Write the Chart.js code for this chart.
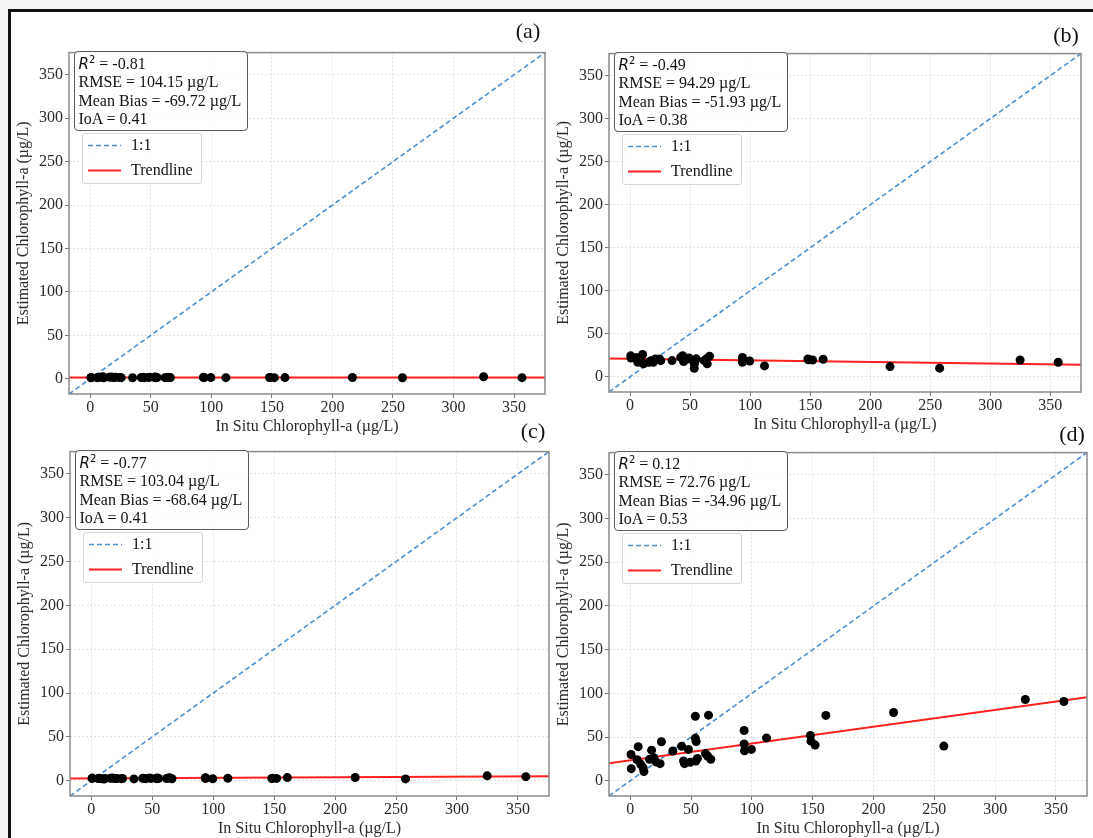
<!DOCTYPE html>
<html>
<head>
<meta charset="utf-8">
<script src="https://cdn.jsdelivr.net/npm/chart.js@4.4.1/dist/chart.umd.min.js"></script>
<style>
html, body { margin: 0; padding: 0; width: 1093px; height: 838px; overflow: hidden; background: #f4f4f4; }
#frame { position: absolute; left: 8px; top: 9px; width: 1200px; height: 900px; background: #fff;
         border-left: 3px solid #111; border-top: 3px solid #111; }
canvas { position: absolute; }
.stats { position: absolute; box-sizing: border-box; border: 1.5px solid #5c5c5c; border-radius: 4px;
         background: rgba(255,255,255,0.92); font: 16px "Liberation Serif"; line-height: 18.3px;
         padding: 3px 6px 2px 4px; color: #111; white-space: nowrap; }
.stats .m { font-family: "DejaVu Sans"; font-style: italic; font-size: 15px; }
.stats sup { font-family: "DejaVu Sans"; font-size: 10px; line-height: 0; vertical-align: 6px; }
.legend { position: absolute; box-sizing: border-box; width: 120px; height: 51px; border: 1px solid #d6d6d6;
          border-radius: 3px; background: rgba(255,255,255,0.92); }
.legend span { position: absolute; left: 48px; font: 16px "Liberation Serif"; line-height: 18px; color: #111; white-space: nowrap; }
.legend svg { position: absolute; left: 0; top: 0; }
.plabel { position: absolute; font: 22px "Liberation Serif"; color: #111; transform: translate(-50%, -50%); }
</style>
</head>
<body>
<div id="frame"></div>
<script>
// in situ values shared by all four panels
const inSitu = [0.6, 0.8, 5.6, 6.5, 8.5, 10.5, 11.2, 15.8, 17.5, 19.4, 21.2, 24.5, 25.6, 35, 42.2, 43.8, 44.6,
    47.8, 49.2, 53.5, 53.5, 54.2, 53.8, 55.2, 64.3, 61.8, 63.5, 66.2, 93.6, 93.6, 93.9, 99.6, 112, 148.1,
    148.6, 152, 160.8, 216.5, 257.8, 324.8, 356.5];

const estimatedA = [1.2, 1.5, 1.3, 1.6, 1.8, 2.4, 1.2, 1.9, 2.0, 1.4, 1.7, 1.5, 1.3, 1.2, 1.5, 1.8, 1.3,
    1.6, 1.9, 2.2, 1.4, 1.7, 1.2, 1.5, 1.9, 1.3, 1.6, 1.4, 1.8, 1.3, 1.5, 1.4, 1.3, 1.5, 1.4, 1.3, 1.4,
    1.5, 1.2, 2.4, 1.3];
const estimatedB = [24.5, 22, 22.7, 17, 20.8, 26, 15.2, 17, 18.9, 17, 20.8, 20.8, 18.9, 19, 22.7, 24.6,
    17.8, 20.8, 22, 15.2, 10, 19, 17, 21, 15.2, 19, 20.8, 24, 22.7, 17, 20, 18.5, 12.8, 20.8, 20, 19.7,
    20.5, 12, 10.2, 19.7, 17];
const estimatedC = [2.6, 2.9, 2.4, 2.8, 2.2, 1.9, 2.5, 2.7, 3.0, 2.4, 2.6, 2.3, 2.5, 2.0, 2.8, 2.5, 2.3,
    2.9, 2.6, 2.4, 2.7, 3.1, 2.3, 2.6, 3.2, 2.5, 2.9, 2.2, 3.4, 2.6, 2.9, 2.2, 2.8, 2.5, 2.7, 2.6, 3.5,
    3.6, 2.0, 5.5, 4.6];
const estimatedD = [30, 13.8, 24, 39, 19, 15, 10.5, 24.5, 35, 26.4, 21.5, 19.5, 44.6, 34, 39.5, 22.6, 19.5,
    35.8, 21, 73.8, 48.6, 44.8, 22.5, 25.5, 75, 31, 28.3, 24.5, 57.5, 42, 34.3, 35.8, 49, 51.7, 45.3, 40.8,
    74.7, 78, 39.6, 93, 90.6];

const tickValues = [0, 50, 100, 150, 200, 250, 300, 350];
const axisLimits = [-17.5, 375.5];

// trendline: y = intercept + slope * x
const trendIntercepts = [1.5, 21, 2.5, 23.4];
const trendSlopes = [0.0002, -0.018, 0.0065, 0.192];

const r2Values = ['-0.81', '-0.49', '-0.77', '0.12'];
const rmseValues = ['104.15', '94.29', '103.04', '72.76'];
const biasValues = ['-69.72', '-51.93', '-68.64', '-34.96'];
const ioaValues = ['0.41', '0.38', '0.41', '0.53'];
const panelLabels = ['(a)', '(b)', '(c)', '(d)'];

const xTitle = 'In Situ Chlorophyll-a (µg/L)';
const yTitle = 'Estimated Chlorophyll-a (µg/L)';

// plot area of each panel in page pixels: left, top, right, bottom
const panels = [
    { est: estimatedA, box: [69, 49, 545, 394], label: [528, 31] },
    { est: estimatedB, box: [609, 50, 1081, 392], label: [1066, 35] },
    { est: estimatedC, box: [70, 448, 549, 796], label: [533, 431] },
    { est: estimatedD, box: [609, 449, 1087, 796], label: [1072, 434] }
];

const Y_AXIS_W = 60, X_AXIS_H = 46, PAD_TOP = 8, PAD_RIGHT = 6;
const serif = 'Liberation Serif';

const frameBox = {
    id: 'frameBox',
    afterDraw(chart) {
        const { ctx, chartArea: a } = chart;
        ctx.save();
        ctx.strokeStyle = '#8a8a8a';
        ctx.lineWidth = 1.5;
        ctx.strokeRect(a.left, a.top, a.right - a.left, a.bottom - a.top);
        ctx.restore();
    }
};

function axis(title, isX) {
    return {
        type: 'linear',
        min: axisLimits[0],
        max: axisLimits[1],
        afterBuildTicks: s => { s.ticks = tickValues.map(v => ({ value: v })); },
        afterFit: s => { if (isX) s.height = X_AXIS_H; else s.width = Y_AXIS_W; },
        grid: { color: '#dadada', lineWidth: 0.8, drawTicks: true, tickLength: 4,
                tickColor: '#777', tickWidth: 1, tickBorderDash: [] },
        border: { display: false, dash: [2, 2] },
        ticks: { color: '#2a2a2a', padding: isX ? 0 : 2, font: { family: serif, size: 16 } },
        title: { display: true, text: title, color: '#2a2a2a', padding: { top: 5, bottom: 4 },
                 font: { family: serif, size: 16 } }
    };
}

panels.forEach((p, i) => {
    const [l, t, r, b] = p.box;
    const canvas = document.createElement('canvas');
    canvas.width = Y_AXIS_W + (r - l) + PAD_RIGHT;
    canvas.height = PAD_TOP + (b - t) + X_AXIS_H;
    canvas.style.left = (l - Y_AXIS_W) + 'px';
    canvas.style.top = (t - PAD_TOP) + 'px';
    document.body.appendChild(canvas);

    new Chart(canvas.getContext('2d'), {
        type: 'scatter',
        data: {
            datasets: [
                {
                    label: 'Data',
                    data: inSitu.map((x, k) => ({ x: x, y: p.est[k] })),
                    pointRadius: 4.5,
                    pointBackgroundColor: '#000',
                    pointBorderWidth: 0,
                    order: 0
                },
                {
                    label: '1:1',
                    data: axisLimits.map(v => ({ x: v, y: v })),
                    showLine: true,
                    borderColor: '#4a90d0',
                    borderWidth: 1.6,
                    borderDash: [5, 3],
                    pointRadius: 0,
                    order: 2
                },
                {
                    label: 'Trendline',
                    data: axisLimits.map(v => ({ x: v, y: trendIntercepts[i] + trendSlopes[i] * v })),
                    showLine: true,
                    borderColor: '#ff2020',
                    borderWidth: 2,
                    pointRadius: 0,
                    order: 1
                }
            ]
        },
        options: {
            responsive: false,
            animation: false,
            devicePixelRatio: 1,
            layout: { padding: { top: PAD_TOP, right: PAD_RIGHT, left: 0, bottom: 0 } },
            scales: { x: axis(xTitle, true), y: axis(yTitle, false) },
            plugins: { legend: { display: false }, tooltip: { enabled: false } }
        },
        plugins: [frameBox]
    });

    const stats = document.createElement('div');
    stats.className = 'stats';
    stats.style.left = (l + 4.5) + 'px';
    stats.style.top = (t + 2) + 'px';
    stats.innerHTML = '<span class="m">R</span><sup>2</sup> = ' + r2Values[i] + '<br>' +
        'RMSE = ' + rmseValues[i] + ' µg/L<br>' +
        'Mean Bias = ' + biasValues[i] + ' µg/L<br>' +
        'IoA = ' + ioaValues[i];
    document.body.appendChild(stats);

    const legend = document.createElement('div');
    legend.className = 'legend';
    legend.style.left = (l + 13) + 'px';
    legend.style.top = (t + 84) + 'px';
    legend.innerHTML =
        '<svg width="120" height="51">' +
        '<line x1="5" y1="11.5" x2="38" y2="11.5" stroke="#4a90d0" stroke-width="1.6" stroke-dasharray="5,3"/>' +
        '<line x1="5" y1="36.5" x2="38" y2="36.5" stroke="#ff2020" stroke-width="2"/>' +
        '</svg>' +
        '<span style="top:2px">1:1</span><span style="top:27px">Trendline</span>';
    document.body.appendChild(legend);

    const lab = document.createElement('div');
    lab.className = 'plabel';
    lab.style.left = p.label[0] + 'px';
    lab.style.top = p.label[1] + 'px';
    lab.textContent = panelLabels[i];
    document.body.appendChild(lab);
});
</script>
</body>
</html>
